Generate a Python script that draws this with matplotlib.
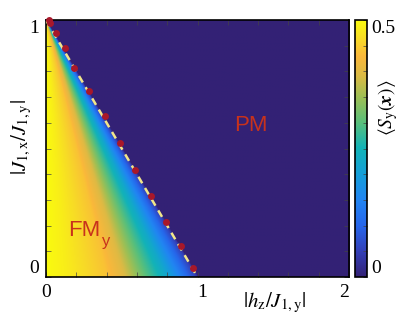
import matplotlib
matplotlib.use("Agg")
import matplotlib.pyplot as plt
import numpy as np
from matplotlib.colors import LinearSegmentedColormap

plt.rcParams['mathtext.fontset'] = 'stix'
plt.rcParams['font.family'] = 'Liberation Serif'

# colour profile of <S_y> along the ratio r = |h_z| / (1 - |J_1x|)
ratio_pts = [0.0, 0.13, 0.40, 0.51, 0.66, 0.79, 0.91, 0.98, 1.0]
sy_pts = [0.50, 0.485, 0.44, 0.40, 0.30, 0.225, 0.125, 0.06, 0.03]

# red dots on the phase boundary
dot_h = [0.02, 0.026, 0.066, 0.127, 0.187, 0.286, 0.387, 0.488, 0.587, 0.691, 0.790, 0.889, 0.968]
dot_j = [1.0, 0.987, 0.951, 0.890, 0.813, 0.724, 0.625, 0.520, 0.416, 0.315, 0.215, 0.122, 0.036]

# boundary |h| + |J| = 1
line_h = [0.0, 1.0]
line_j = [1.0, 0.0]

# parula-like colours
cmap_cols = [(0.0, (0.20, 0.13, 0.46)), (0.1, (0.20, 0.25, 0.72)), (0.2, (0.15, 0.40, 0.92)),
             (0.3, (0.13, 0.52, 0.95)), (0.4, (0.08, 0.62, 0.85)), (0.5, (0.07, 0.70, 0.72)),
             (0.6, (0.35, 0.75, 0.48)), (0.7, (0.62, 0.75, 0.33)), (0.78, (0.85, 0.73, 0.27)),
             (0.86, (0.98, 0.72, 0.23)), (0.93, (0.97, 0.86, 0.15)), (1.0, (0.98, 0.98, 0.06))]
cmap = LinearSegmentedColormap.from_list('parula_like', cmap_cols)

hh, jj = np.meshgrid(np.linspace(0, 2, 600), np.linspace(0, 1, 300))
r = hh / np.maximum(1 - jj, 1e-9)
field = np.where(r <= 1.0, np.interp(r, ratio_pts, sy_pts), 0.0)

fig = plt.figure(figsize=(4.15, 3.27), dpi=100)
ax = fig.add_axes([46/415, 50/327, 303/415, 257/327])
cax = fig.add_axes([355/415, 50/327, 12/415, 257/327])

im = ax.imshow(field, origin='lower', extent=[0, 2, 0, 1], aspect='auto', cmap=cmap,
               vmin=0, vmax=0.5, interpolation='bilinear')
ax.plot(line_h, line_j, ls=(0, (3, 2.2)), color='#f2e68a', lw=1.8, zorder=3)
ax.plot(dot_h, dot_j, 'o', color='#a8182a', ms=5, mec='none', zorder=4, clip_on=False)

ax.text(1.35, 0.59, 'PM', color='#c8321c', fontsize=16, family='Liberation Sans', ha='center', va='center')
ax.text(0.25, 0.18, 'FM', color='#c8321c', fontsize=16, family='Liberation Sans', ha='center', va='center')
ax.text(0.395, 0.14, 'y', color='#c8321c', fontsize=12, family='Liberation Sans', ha='center', va='center')

ax.set_xlim(0, 2)
ax.set_ylim(0, 1)
ax.set_xticks(np.arange(0, 2.01, 0.2))
ax.set_yticks(np.arange(0, 1.01, 0.1))
ax.set_xticklabels(['0'] + [''] * 4 + ['1'] + [''] * 4 + ['2'])
ax.set_yticklabels(['0'] + [''] * 9 + ['1'])
ax.tick_params(direction='in', length=3.5, width=0.5, color='#444444', top=True, right=True,
               labelsize=14, pad=5)
xl = ax.get_xticklabels()
xl[-1].set_ha('right')
xl[5].set_ha('left')
yl = ax.get_yticklabels()
yl[0].set_va('bottom')
yl[-1].set_va('top')
for s in ax.spines.values():
    s.set_linewidth(1.2)

fig.text(275/415, 1 - 303/327, r'$|h_\mathrm{z}/J_{1,\mathrm{y}}|$', fontsize=15, ha='center', va='center')
fig.text(22/415, 1 - 137/327, r'$|J_{1,\mathrm{x}}/J_{1,\mathrm{y}}|$', fontsize=15, ha='center', va='center',
         rotation=90)

cb = fig.colorbar(im, cax=cax)
cb.set_ticks(np.arange(0, 0.501, 0.05))
cb.set_ticklabels(['0'] + [''] * 9 + ['0.5'])
cax.tick_params(direction='in', length=3, width=0.5, color='#444444', labelsize=14, pad=3)
cl = cax.get_yticklabels()
cl[0].set_va('bottom')
cl[-1].set_va('top')
cb.outline.set_linewidth(1.2)
fig.text(388/415, 1 - 108/327, r'$\langle S_\mathrm{y}(\boldsymbol{x})\rangle$', fontsize=14, ha='center',
         va='center', rotation=90)

fig.savefig('out.png', dpi=100)
